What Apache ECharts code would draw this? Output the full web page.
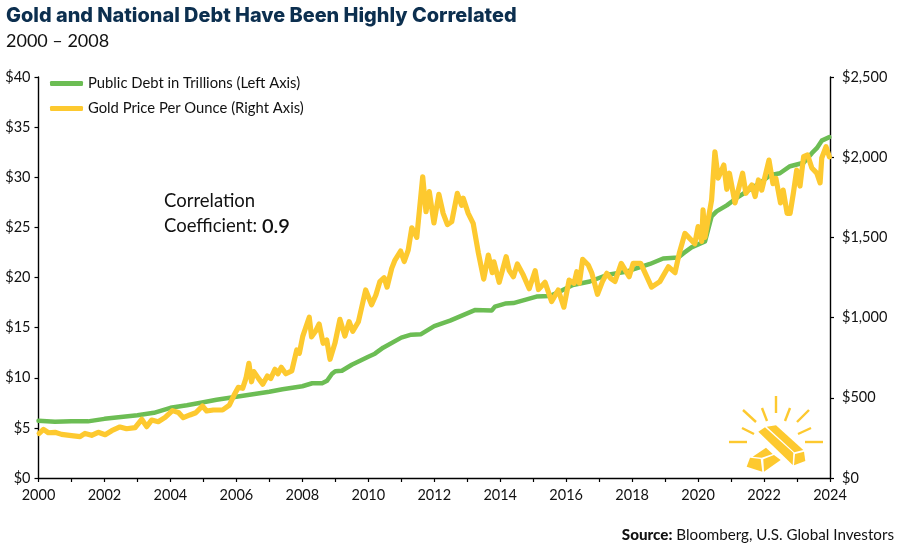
<!DOCTYPE html>
<html lang="en">
<head>
    <meta charset="UTF-8">
    <title>Gold and National Debt Have Been Highly Correlated</title>
    <script src="https://cdn.jsdelivr.net/npm/echarts@6/dist/echarts.min.js"></script>
    <style>
        html, body { margin: 0; padding: 0; background: #fff; }
        #chart { width: 900px; height: 549px; }
    </style>
</head>
<body>
<div id="chart"></div>
<script>
const debtYears = [2000, 2000.5, 2001, 2001.5, 2002, 2003, 2003.5, 2004, 2004.5, 2005, 2005.4, 2006, 2006.5, 2007, 2007.4, 2008, 2008.3, 2008.6, 2008.75, 2008.9, 2009, 2009.2, 2009.5, 2010, 2010.2, 2010.45, 2011, 2011.3, 2011.6, 2012, 2012.48, 2013.23, 2013.74, 2013.84, 2014.15, 2014.4, 2015.1, 2015.5, 2015.81, 2016.2, 2016.72, 2017.23, 2017.85, 2018.54, 2018.94, 2019.4, 2019.55, 2019.8, 2020.21, 2020.41, 2020.56, 2020.87, 2021.22, 2021.93, 2022.18, 2022.48, 2022.79, 2023.2, 2023.45, 2023.6, 2023.75, 2023.98];
const debtValues = [5.7, 5.6, 5.65, 5.65, 5.9, 6.25, 6.5, 7.0, 7.25, 7.55, 7.8, 8.1, 8.35, 8.6, 8.85, 9.15, 9.45, 9.45, 9.7, 10.4, 10.65, 10.7, 11.3, 12.1, 12.4, 13.0, 14.0, 14.3, 14.35, 15.15, 15.7, 16.75, 16.7, 17.1, 17.4, 17.45, 18.1, 18.15, 18.6, 19.25, 19.6, 20.25, 20.6, 21.35, 21.9, 22.0, 22.4, 23.0, 23.6, 26.1, 26.6, 27.2, 28.05, 29.55, 30.2, 30.4, 31.1, 31.45, 32.4, 32.9, 33.65, 34.0];

const goldYears = [2000.02, 2000.15, 2000.3, 2000.5, 2000.7, 2001, 2001.26, 2001.41, 2001.61, 2001.81, 2002.02, 2002.22, 2002.47, 2002.67, 2002.93, 2003.13, 2003.28, 2003.43, 2003.63, 2003.84, 2004.06, 2004.24, 2004.39, 2004.59, 2004.77, 2004.97, 2005.1, 2005.3, 2005.58, 2005.79, 2005.93, 2006.06, 2006.19, 2006.29, 2006.38, 2006.46, 2006.53, 2006.67, 2006.8, 2006.94, 2007.04, 2007.17, 2007.26, 2007.36, 2007.5, 2007.68, 2007.83, 2007.91, 2008.01, 2008.21, 2008.28, 2008.41, 2008.51, 2008.63, 2008.74, 2008.84, 2008.99, 2009.14, 2009.29, 2009.42, 2009.53, 2009.7, 2009.92, 2010.1, 2010.23, 2010.35, 2010.48, 2010.57, 2010.71, 2010.81, 2010.98, 2011.09, 2011.21, 2011.32, 2011.47, 2011.65, 2011.75, 2011.85, 2011.99, 2012.14, 2012.27, 2012.4, 2012.53, 2012.7, 2012.83, 2012.88, 2013.03, 2013.18, 2013.34, 2013.5, 2013.64, 2013.76, 2013.81, 2013.97, 2014.18, 2014.27, 2014.4, 2014.52, 2014.7, 2014.88, 2015.06, 2015.16, 2015.36, 2015.56, 2015.76, 2015.93, 2016.09, 2016.24, 2016.32, 2016.4, 2016.5, 2016.67, 2016.78, 2016.95, 2017.1, 2017.23, 2017.35, 2017.48, 2017.67, 2017.91, 2018.03, 2018.26, 2018.59, 2018.84, 2019.1, 2019.3, 2019.43, 2019.6, 2019.9, 2020, 2020.11, 2020.15, 2020.21, 2020.41, 2020.51, 2020.61, 2020.78, 2020.87, 2020.95, 2021.12, 2021.35, 2021.45, 2021.63, 2021.73, 2021.83, 2021.93, 2022.15, 2022.27, 2022.36, 2022.5, 2022.58, 2022.7, 2022.79, 2022.89, 2022.99, 2023.09, 2023.2, 2023.32, 2023.45, 2023.6, 2023.7, 2023.75, 2023.88, 2023.98];
const goldValues = [278, 303, 282, 285, 272, 264, 258, 278, 266, 285, 270, 295, 318, 307, 314, 366, 320, 361, 351, 378, 420, 409, 376, 393, 407, 449, 418, 424, 424, 455, 517, 565, 559, 621, 715, 600, 663, 621, 585, 636, 620, 678, 650, 690, 650, 668, 798, 777, 881, 1002, 880, 918, 960, 840, 860, 740, 841, 989, 885, 974, 915, 974, 1172, 1080, 1141, 1224, 1249, 1190, 1307, 1359, 1415, 1350, 1421, 1560, 1500, 1878, 1660, 1785, 1590, 1769, 1650, 1580, 1598, 1775, 1700, 1744, 1650, 1588, 1401, 1240, 1390, 1280, 1348, 1220, 1380, 1295, 1255, 1334, 1265, 1180, 1292, 1175, 1220, 1100, 1172, 1065, 1234, 1214, 1286, 1215, 1363, 1328, 1276, 1145, 1224, 1276, 1245, 1225, 1338, 1255, 1338, 1338, 1190, 1224, 1317, 1280, 1401, 1525, 1460, 1567, 1475, 1671, 1500, 1733, 2034, 1870, 1951, 1800, 1900, 1715, 1900, 1775, 1827, 1755, 1858, 1795, 1982, 1835, 1868, 1715, 1795, 1650, 1650, 1777, 1920, 1820, 2003, 2014, 1933, 1901, 1840, 1995, 2065, 2003];

const leftTicks = { min: 0, max: 40, interval: 5 };
const rightTicks = { min: 0, max: 2500, interval: 500 };

const myChart = echarts.init(document.getElementById('chart'));
const font = 'Lato, "Open Sans", sans-serif';
const gold = '#fdc92f';
const green = '#6cbd54';

function ray(x1, y1, x2, y2) {
    return { type: 'line', shape: { x1, y1, x2, y2 }, style: { stroke: gold, lineWidth: 2.4 } };
}
function face(points) {
    return { type: 'polygon', shape: { points }, style: { fill: gold } };
}

myChart.setOption({
    animation: false,
    textStyle: { fontFamily: font },
    grid: { left: 38.5, right: 70, top: 77, bottom: 71, containLabel: false },
    legend: {
        orient: 'vertical', left: 45, top: 70, icon: 'roundRect', itemWidth: 33, itemHeight: 5, itemGap: 8, itemTextGap: 5,
        textStyle: { fontFamily: font, fontSize: 14.8, color: '#111', height: 17, lineHeight: 17 },
        data: ['Public Debt in Trillions (Left Axis)', 'Gold Price Per Ounce (Right Axis)']
    },
    xAxis: {
        type: 'value', min: 2000, max: 2024, interval: 1,
        splitLine: { show: false },
        axisLine: { lineStyle: { color: '#000', width: 1.4 } },
        axisTick: { length: 4, lineStyle: { color: '#000', width: 1.2 } },
        axisLabel: {
            color: '#111', fontSize: 14.5, margin: 10, hideOverlap: false, showMinLabel: true, showMaxLabel: true,
            formatter: v => (v % 2 === 0 ? String(v) : '')
        }
    },
    yAxis: [
        {
            type: 'value', position: 'left', ...leftTicks,
            splitLine: { show: false },
            axisLine: { show: true, lineStyle: { color: '#000', width: 1.4 } },
            axisTick: { show: true, length: 4, lineStyle: { color: '#000', width: 1.2 } },
            axisLabel: { color: '#111', fontSize: 14.5, margin: 8, formatter: v => '$' + v }
        },
        {
            type: 'value', position: 'right', ...rightTicks,
            splitLine: { show: false },
            axisLine: { show: true, lineStyle: { color: '#000', width: 1.4 } },
            axisTick: { show: true, length: 4, lineStyle: { color: '#000', width: 1.2 } },
            axisLabel: { color: '#111', fontSize: 14.5, margin: 12, formatter: v => '$' + v.toLocaleString('en-US') }
        }
    ],
    series: [
        {
            name: 'Public Debt in Trillions (Left Axis)', type: 'line', yAxisIndex: 0, symbol: 'none',
            data: debtYears.map((y, i) => [y, debtValues[i]]),
            lineStyle: { color: green, width: 4.5, cap: 'round', join: 'round' },
            itemStyle: { color: green }
        },
        {
            name: 'Gold Price Per Ounce (Right Axis)', type: 'line', yAxisIndex: 1, symbol: 'none',
            data: goldYears.map((y, i) => [y, goldValues[i]]),
            lineStyle: { color: gold, width: 5.2, cap: 'round', join: 'round' },
            itemStyle: { color: gold }
        }
    ],
    graphic: [
        { type: 'text', left: 6, top: 6, style: { text: 'Gold and National Debt Have Been Highly Correlated', fill: '#0c2f4f', font: '800 19.9px Inter, ' + font } },
        { type: 'text', left: 6, top: 32, style: { text: '2000 – 2008', fill: '#111', font: '400 18px ' + font } },
        {
            type: 'text', left: 164, top: 189,
            style: {
                text: 'Correlation\nCoefficient: {b|0.9}', fill: '#111', font: '400 18.5px ' + font, lineHeight: 25,
                rich: { b: { font: '600 20px ' + font, fill: '#111', lineHeight: 25 } }
            }
        },
        {
            type: 'text', right: 6, top: 528,
            style: {
                text: '{s|Source:} Bloomberg, U.S. Global Investors', fill: '#111', font: '400 15.2px ' + font,
                rich: { s: { font: '900 15.2px ' + font, fill: '#111' } }
            }
        },
        ray(776, 396, 776, 413), ray(743, 410, 756, 422), ray(762, 408, 767, 421),
        ray(790, 408, 785, 421), ray(809, 410, 797, 422), ray(742, 428, 754, 434),
        ray(811, 428, 798, 434), ray(729, 442, 747, 442), ray(805, 442, 823, 442),
        face([[758.3, 431.7], [765, 427.3], [793.3, 452.7], [792.7, 465]]),
        face([[766.7, 426.7], [776, 425.3], [803.3, 450], [794.3, 452.3]]),
        face([[795, 454], [804, 451.7], [805.3, 461], [794, 465.3]]),
        face([[752.7, 456.7], [766, 447.7], [772.7, 454], [761.7, 457.7]]),
        face([[750, 457.7], [760.7, 459], [762.3, 471.7], [746.7, 466.7]]),
        face([[763.3, 459.3], [774, 455], [780.7, 460], [764, 471.7]])
    ]
});
</script>
</body>
</html>
